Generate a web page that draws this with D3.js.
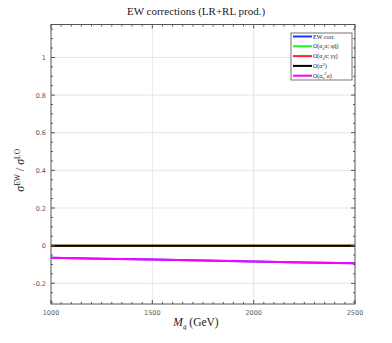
<!DOCTYPE html>
<html>
<head>
<meta charset="utf-8">
<script src="https://cdn.jsdelivr.net/npm/d3@7"></script>
<style>
  body { margin: 0; background: #fff; }
  svg text { font-family: "Liberation Serif", serif; }
</style>
</head>
<body>
<div id="chart"></div>
<script>
// masses (GeV) and the ratios
const masses = [1000, 1250, 1500, 1750, 2000, 2250, 2500];
const ewCorr = [-0.064, -0.069, -0.074, -0.079, -0.084, -0.089, -0.094];
const qqbar = [0, 0, 0, 0, 0, 0, 0];
const gamgam = [0, 0, 0, 0, 0, 0, 0];
const alpha2 = [0, 0, 0, 0, 0, 0, 0];
const as2alpha = [-0.064, -0.069, -0.074, -0.079, -0.084, -0.089, -0.094];

const xTicks = [1000, 1500, 2000, 2500];
const yTicks = [-0.2, 0, 0.2, 0.4, 0.6, 0.8, 1];

// legend names as [text, baseline shift] pieces
const series = [
  { name: [["EW corr.", 0]], values: ewCorr, color: "#2b2bff" },
  { name: [["O(α", 0], ["s", 1.5], ["α; qq̄)", 0]], values: qqbar, color: "#22ee22" },
  { name: [["O(α", 0], ["s", 1.5], ["α; γγ)", 0]], values: gamgam, color: "#ff2222" },
  { name: [["O(α", 0], ["2", -2], [")", 0]], values: alpha2, color: "#000000" },
  { name: [["O(α", 0], ["s", 1.5], ["2", -3], ["α)", 0]], values: as2alpha, color: "#ff00ff" }
];

const width = 392, height = 343;
const margin = { top: 24.5, right: 37, bottom: 39, left: 51 };

const svg = d3.select("#chart").append("svg")
  .attr("width", width)
  .attr("height", height);

const x = d3.scaleLinear().domain([1000, 2500]).range([margin.left, width - margin.right]);
const y = d3.scaleLinear().domain([-0.31, 1.175]).range([height - margin.bottom, margin.top]);

const x0 = margin.left, x1 = width - margin.right;
const y0 = height - margin.bottom, y1 = margin.top;

// grid
svg.append("g").selectAll("line")
  .data(xTicks.slice(1, -1)).enter().append("line")
  .attr("x1", d => x(d)).attr("x2", d => x(d))
  .attr("y1", y0).attr("y2", y1)
  .attr("stroke", "#e6e6e6").attr("stroke-width", 1);

svg.append("g").selectAll("line")
  .data(yTicks).enter().append("line")
  .attr("x1", x0).attr("x2", x1)
  .attr("y1", d => y(d)).attr("y2", d => y(d))
  .attr("stroke", "#e6e6e6").attr("stroke-width", 1);

// lines
const line = d3.line()
  .x((d, i) => x(masses[i]))
  .y(d => y(d));

svg.append("g").selectAll("path")
  .data(series).enter().append("path")
  .attr("d", d => line(d.values))
  .attr("fill", "none")
  .attr("stroke", d => d.color)
  .attr("stroke-width", 2);

// ticks inside the frame
const xMinor = d3.range(1000, 2501, 50);
const yMinor = d3.range(-0.3, 1.176, 0.05);

const ticks = svg.append("g").attr("stroke", "#555").attr("stroke-width", 1);
xMinor.forEach(v => {
  const len = v % 500 === 0 ? 4 : 2;
  ticks.append("line").attr("x1", x(v)).attr("x2", x(v)).attr("y1", y0).attr("y2", y0 - len);
  ticks.append("line").attr("x1", x(v)).attr("x2", x(v)).attr("y1", y1).attr("y2", y1 + len);
});
yMinor.forEach(v => {
  const major = Math.abs(Math.round(v * 5) - v * 5) < 1e-6;
  const len = major ? 4 : 2;
  ticks.append("line").attr("x1", x0).attr("x2", x0 + len).attr("y1", y(v)).attr("y2", y(v));
  ticks.append("line").attr("x1", x1).attr("x2", x1 - len).attr("y1", y(v)).attr("y2", y(v));
});

// frame
svg.append("rect")
  .attr("x", x0).attr("y", y1)
  .attr("width", x1 - x0).attr("height", y0 - y1)
  .attr("fill", "none").attr("stroke", "#555").attr("stroke-width", 1);

// tick labels
svg.append("g").selectAll("text")
  .data(xTicks).enter().append("text")
  .attr("x", d => x(d)).attr("y", y0 + 11)
  .attr("text-anchor", "middle")
  .style("font-family", "DejaVu Sans, sans-serif")
  .style("font-size", "6.5px").attr("fill", "#555")
  .text(d => d);

svg.append("g").selectAll("text")
  .data(yTicks).enter().append("text")
  .attr("x", x0 - 5).attr("y", d => y(d) + 2.5)
  .attr("text-anchor", "end")
  .style("font-family", "DejaVu Sans, sans-serif")
  .style("font-size", "6.5px").attr("fill", "#555")
  .text(d => d);

// title
svg.append("text")
  .attr("x", 196).attr("y", 15)
  .attr("text-anchor", "middle")
  .style("font-size", "11px").attr("fill", "#222")
  .text("EW corrections (LR+RL prod.)");

// x label
const xl = svg.append("text")
  .attr("x", 196).attr("y", 326)
  .attr("text-anchor", "middle")
  .style("font-size", "11.5px").attr("fill", "#222");
xl.append("tspan").style("font-style", "italic").text("M");
xl.append("tspan").attr("dy", 3).style("font-size", "7px").style("font-style", "italic").text("q̃");
xl.append("tspan").attr("dy", -3).text(" (GeV)");

// y label
const yl = svg.append("text")
  .attr("transform", "translate(24," + y(0.4) + ") rotate(-90)")
  .attr("text-anchor", "middle")
  .style("font-size", "12px").attr("fill", "#222");
yl.append("tspan").style("font-style", "italic").text("σ");
yl.append("tspan").attr("dy", -4).style("font-size", "7.5px").text("EW");
yl.append("tspan").attr("dy", 4).text(" / ");
yl.append("tspan").style("font-style", "italic").text("σ");
yl.append("tspan").attr("dy", -4).style("font-size", "7.5px").text("LO");

// legend
const lg = svg.append("g").attr("transform", "translate(291,33)");
lg.append("rect")
  .attr("width", 61).attr("height", 47)
  .attr("fill", "#fff").attr("stroke", "#777").attr("stroke-width", 1);
const item = lg.selectAll("g").data(series).enter().append("g")
  .attr("transform", (d, i) => "translate(0," + (3.5 + i * 9.8) + ")");
item.append("line")
  .attr("x1", 2).attr("x2", 21)
  .attr("stroke", d => d.color).attr("stroke-width", 2);
item.append("text")
  .attr("x", 22).attr("y", 2)
  .style("font-size", "6px").attr("fill", "#222")
  .each(function(d) {
    const t = d3.select(this);
    let shift = 0;
    d.name.forEach(([s, dy]) => {
      t.append("tspan")
        .attr("dy", dy - shift)
        .style("font-size", dy !== 0 ? "4.5px" : "6px")
        .text(s);
      shift = dy;
    });
  });
</script>
</body>
</html>
